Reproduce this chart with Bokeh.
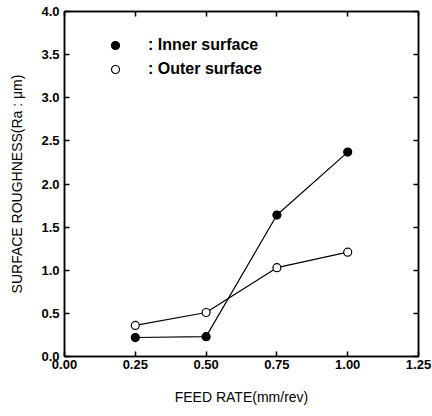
from bokeh.plotting import figure
from bokeh.models import FixedTicker, LinearAxis, Legend, LegendItem, Range1d
from bokeh.embed import file_html
from bokeh.resources import INLINE

feed_rate = [0.25, 0.50, 0.75, 1.00]
inner_surface = [0.22, 0.23, 1.64, 2.37]
outer_surface = [0.36, 0.51, 1.03, 1.21]
x_ticks = [0.0, 0.25, 0.5, 0.75, 1.0, 1.25]
y_ticks = [0.0, 0.5, 1.0, 1.5, 2.0, 2.5, 3.0, 3.5, 4.0]

FONT = "Liberation Sans"

p = figure(width=432, height=416, output_backend="svg", toolbar_location=None,
           x_range=Range1d(0, 1.25), y_range=Range1d(0, 4),
           min_border_left=64, min_border_right=14, min_border_top=11, min_border_bottom=60,
           x_axis_label="FEED RATE(mm/rev)", y_axis_label="SURFACE ROUGHNESS(Ra : \u03bcm)")
p.grid.visible = False
p.outline_line_color = "black"
p.outline_line_width = 1.5
p.background_fill_color = "white"
p.border_fill_color = "white"

for ax, ticks, fmt in ((p.xaxis[0], x_ticks, "%.2f"), (p.yaxis[0], y_ticks, "%.1f")):
    ax.ticker = FixedTicker(ticks=ticks)
    ax.major_label_overrides = {t: fmt % t for t in ticks}
    ax.major_tick_in = 5
    ax.major_tick_out = 0
    ax.minor_tick_line_color = None
    ax.axis_line_width = 1.5
    ax.major_tick_line_width = 1.5
    ax.major_label_text_font = FONT
    ax.major_label_text_font_style = "bold"
    ax.major_label_text_font_size = "13px"
    ax.major_label_text_color = "black"
    ax.axis_label_text_font = FONT
    ax.axis_label_text_font_style = "normal"
    ax.axis_label_text_font_size = "14px"
    ax.axis_label_text_color = "black"

p.xaxis.major_label_standoff = 3
p.xaxis.axis_label_standoff = 17
p.yaxis.major_label_standoff = 5
p.yaxis.axis_label_standoff = 13

for side, ticks in (("right", y_ticks), ("above", x_ticks)):
    ax = LinearAxis(ticker=FixedTicker(ticks=ticks))
    ax.major_label_overrides = {t: "" for t in ticks}
    ax.major_tick_in = 5
    ax.major_tick_out = 0
    ax.minor_tick_line_color = None
    ax.major_label_standoff = 0
    ax.axis_line_width = 1.5
    ax.major_tick_line_width = 1.5
    p.add_layout(ax, side)

p.line(feed_rate, inner_surface, line_color="black", line_width=1.2)
p.line(feed_rate, outer_surface, line_color="black", line_width=1.2)
r_in = p.scatter(feed_rate, inner_surface, size=8, marker="circle",
                 fill_color="black", line_color="black", line_width=1.2)
r_out = p.scatter(feed_rate, outer_surface, size=8, marker="circle",
                  fill_color="white", line_color="black", line_width=1.2)

legend = Legend(items=[LegendItem(label=": Inner surface", renderers=[r_in]),
                       LegendItem(label=": Outer surface", renderers=[r_out])],
                location=(41, 277), padding=0, margin=0, spacing=4,
                glyph_width=20, glyph_height=20, label_standoff=23,
                label_text_font=FONT, label_text_font_style="bold",
                label_text_font_size="16px", label_text_color="black",
                border_line_color=None, background_fill_alpha=0)
p.add_layout(legend)

open("out.html", "w").write(file_html(p, INLINE))
